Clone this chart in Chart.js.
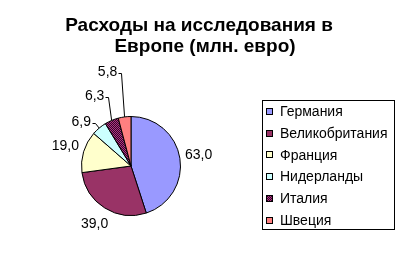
<!DOCTYPE html>
<html>
<head>
<meta charset="utf-8">
<script src="https://cdn.jsdelivr.net/npm/chart.js@4/dist/chart.umd.min.js"></script>
<style>
html,body{margin:0;padding:0;background:#fff;}
#wrap{width:400px;height:265px;position:relative;}
canvas{display:block;}
</style>
</head>
<body>
<div id="wrap"><canvas id="c" width="400" height="265"></canvas></div>
<script>
// ---- data ----
const titleLines = ["Расходы на исследования в", "Европе (млн. евро)"];
const countries = ["Германия", "Великобритания", "Франция", "Нидерланды", "Италия", "Швеция"];
const spending = [63.0, 39.0, 19.0, 6.9, 6.3, 5.8];

// ---- styles ----
const FONT = "Arial, 'Liberation Sans', sans-serif";
function makePattern() {
  const p = document.createElement('canvas');
  p.width = 2; p.height = 2;
  const g = p.getContext('2d');
  g.fillStyle = '#330033'; g.fillRect(0, 0, 2, 2);
  g.fillStyle = '#b03a78'; g.fillRect(0, 0, 1, 1); g.fillRect(1, 1, 1, 1);
  return document.getElementById('c').getContext('2d').createPattern(p, 'repeat');
}
const sliceColors = ['#9999ff', '#993366', '#ffffcc', '#ccffff', makePattern(), '#ff8080'];
// label placement: null = along bisector; otherwise offset (dx,dy) from arc edge midpoint, with leader line
const labelOffsets = [null, null, null, [-18, -6], [-17, -24], [-17, -45]];

const fmt = v => v.toFixed(1).replace('.', ',');

const titlePlugin = {
  id: 'titleText',
  afterDraw(chart) {
    const ctx = chart.ctx;
    ctx.save();
    ctx.fillStyle = '#000';
    ctx.font = 'bold 19px ' + FONT;
    ctx.textAlign = 'center';
    ctx.textBaseline = 'alphabetic';
    ctx.fillText(titleLines[0], 199, 31);
    ctx.fillText(titleLines[1], 205, 52);
    ctx.restore();
  }
};

const labelPlugin = {
  id: 'sliceLabels',
  afterDatasetsDraw(chart) {
    const ctx = chart.ctx;
    const meta = chart.getDatasetMeta(0);
    ctx.save();
    ctx.font = '14px ' + FONT;
    ctx.fillStyle = '#000';
    ctx.strokeStyle = '#000';
    ctx.lineWidth = 1;
    ctx.textBaseline = 'middle';
    ctx.textAlign = 'center';
    meta.data.forEach((arc, i) => {
      const p = arc.getProps(['x', 'y', 'startAngle', 'endAngle', 'outerRadius'], true);
      const mid = (p.startAngle + p.endAngle) / 2;
      const txt = fmt(chart.data.datasets[0].data[i]);
      const off = labelOffsets[i];
      if (!off) {
        const r = p.outerRadius + 19;
        ctx.fillText(txt, p.x + Math.cos(mid) * r, p.y + Math.sin(mid) * r);
      } else {
        const ex = p.x + Math.cos(mid) * p.outerRadius;
        const ey = p.y + Math.sin(mid) * p.outerRadius;
        const lx = ex + off[0], ly = ey + off[1];
        ctx.fillText(txt, lx, ly);
        const w = ctx.measureText(txt).width;
        const sx = Math.round(lx + w / 2 + 1) + 0.5;
        const sy = Math.round(ly + 1) + 0.5;
        ctx.beginPath();
        ctx.moveTo(sx, sy);
        ctx.lineTo(sx + 3, sy);
        ctx.lineTo(ex, ey);
        ctx.stroke();
      }
    });
    ctx.restore();
  }
};

const legendPlugin = {
  id: 'boxLegend',
  afterDraw(chart) {
    const ctx = chart.ctx;
    const ds = chart.data.datasets[0];
    ctx.save();
    ctx.strokeStyle = '#000';
    ctx.lineWidth = 1;
    ctx.strokeRect(262.5, 100.5, 132, 129);
    ctx.font = '14px ' + FONT;
    ctx.textBaseline = 'middle';
    ctx.textAlign = 'left';
    chart.data.labels.forEach((lab, i) => {
      const cy = 112 + i * 21.7;
      ctx.fillStyle = ds.backgroundColor[i];
      ctx.fillRect(266, Math.round(cy) - 4, 7, 7);
      ctx.strokeRect(266.5, Math.round(cy) - 3.5, 6, 6);
      ctx.fillStyle = '#000';
      ctx.fillText(lab, 280, cy + 0.5);
    });
    ctx.restore();
  }
};

new Chart(document.getElementById('c'), {
  type: 'pie',
  data: {
    labels: countries,
    datasets: [{
      data: spending,
      backgroundColor: sliceColors,
      borderColor: '#000',
      borderWidth: 1,
      borderAlign: 'center'
    }]
  },
  options: {
    responsive: false,
    animation: false,
    layout: { padding: { left: 81, right: 219, top: 116, bottom: 49 } },
    plugins: { legend: { display: false }, title: { display: false }, tooltip: { enabled: false } }
  },
  plugins: [titlePlugin, labelPlugin, legendPlugin]
});
</script>
</body>
</html>
